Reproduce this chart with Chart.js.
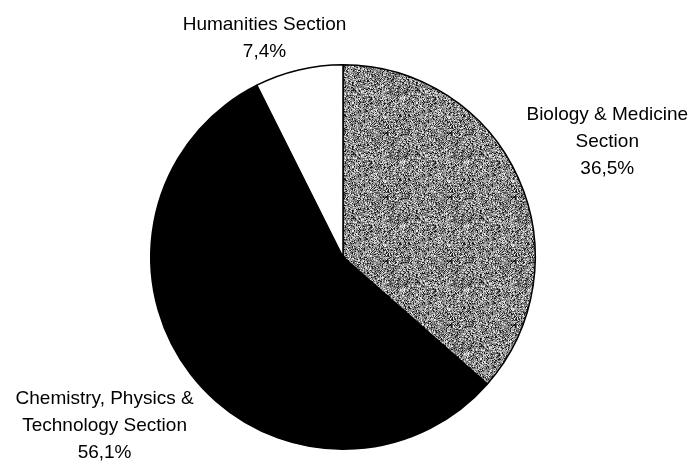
<!DOCTYPE html>
<html>
<head>
<meta charset="utf-8">
<script src="https://cdn.jsdelivr.net/npm/chart.js@4/dist/chart.umd.min.js"></script>
<style>
  html, body { margin: 0; padding: 0; background: #fff; }
  #wrap { width: 689px; height: 466px; position: relative; }
</style>
</head>
<body>
<div id="wrap"><canvas id="c" width="689" height="466"></canvas></div>
<script>
// ---- data ----
const categoryLines = [
  ["Biology & Medicine", "Section"],
  ["Chemistry, Physics &", "Technology Section"],
  ["Humanities Section"]
];
const shares = [36.5, 56.1, 7.4];

// label placement relative to the slice (distance as fraction of radius, angle tweak in degrees)
const labelPlace = [
  { dist: 1.50, dAng: 0.7 },
  { dist: 1.52, dAng: 2.3 },
  { dist: 1.21, dAng: -6.4 }
];

const fmt = v => v.toFixed(1).replace('.', ',') + '%';

// stippled grey texture (deterministic hash dither, like a scanned halftone)
function stipple() {
  const n = 64;
  const cv = document.createElement('canvas');
  cv.width = n; cv.height = n;
  const g = cv.getContext('2d');
  const img = g.createImageData(n, n);
  for (let y = 0; y < n; y++) {
    for (let x = 0; x < n; x++) {
      let h = Math.imul(x, 374761393) + Math.imul(y, 668265263);
      h = Math.imul(h ^ (h >>> 13), 1274126177);
      h = (h ^ (h >>> 16)) >>> 0;
      const t = h / 4294967296;
      const v = t < 0.15 ? 25 : t > 0.9 ? 235 : Math.round(75 + (t - 0.15) / 0.75 * 130);
      const o = (y * n + x) * 4;
      img.data[o] = img.data[o + 1] = img.data[o + 2] = v;
      img.data[o + 3] = 255;
    }
  }
  g.putImageData(img, 0, 0);
  return g.createPattern(cv, 'repeat');
}

const labelPlugin = {
  id: 'sliceLabels',
  afterDraw(chart) {
    const ctx = chart.ctx;
    const meta = chart.getDatasetMeta(0);
    ctx.save();
    ctx.fillStyle = '#000';
    ctx.font = '19px "Liberation Sans", Arial, sans-serif';
    ctx.textAlign = 'center';
    ctx.textBaseline = 'middle';
    const lh = 27;
    meta.data.forEach((arc, i) => {
      const p = arc.getProps(['x', 'y', 'startAngle', 'endAngle', 'outerRadius'], true);
      const mid = (p.startAngle + p.endAngle) / 2 + labelPlace[i].dAng * Math.PI / 180;
      const d = p.outerRadius * labelPlace[i].dist;
      const cx = p.x + Math.cos(mid) * d;
      const cy = p.y + Math.sin(mid) * d;
      const lines = categoryLines[i].concat([fmt(shares[i])]);
      const top = cy - (lines.length - 1) * lh / 2;
      lines.forEach((t, k) => ctx.fillText(t, cx, top + k * lh));
    });
    ctx.restore();
  }
};

new Chart(document.getElementById('c'), {
  type: 'pie',
  data: {
    labels: categoryLines.map(l => l.join(' ')),
    datasets: [{
      data: shares,
      backgroundColor: [stipple(), '#000000', '#ffffff'],
      borderColor: ['#000', '#000', '#000'],
      borderWidth: 1.5
    }]
  },
  options: {
    responsive: false,
    animation: false,
    layout: { padding: { left: 150, right: 153, top: 64, bottom: 16 } },
    plugins: {
      legend: { display: false },
      tooltip: { enabled: false }
    }
  },
  plugins: [labelPlugin]
});
</script>
</body>
</html>
